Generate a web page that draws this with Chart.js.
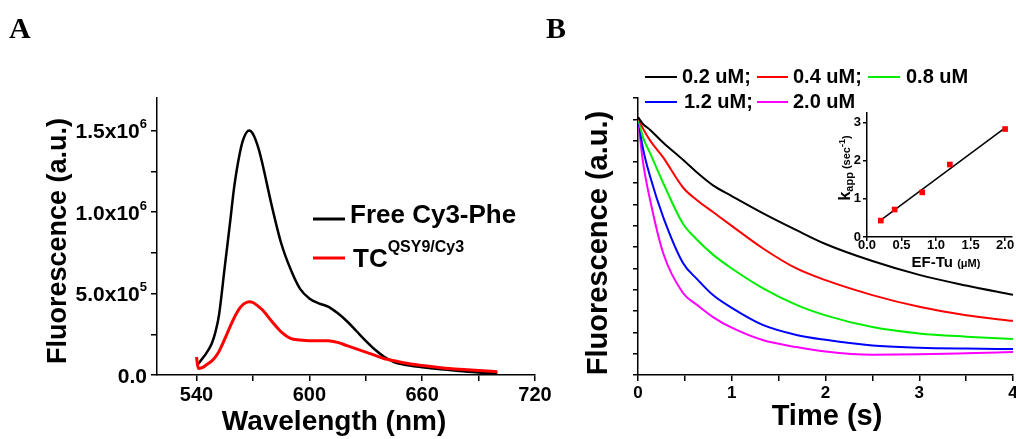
<!DOCTYPE html>
<html>
<head>
<meta charset="utf-8">
<script src="https://cdn.jsdelivr.net/npm/chart.js@4.4.0/dist/chart.umd.min.js"></script>
<style>
  html, body { margin: 0; padding: 0; background: #fff; }
  #wrap { position: relative; width: 1016px; height: 439px; overflow: hidden; }
  canvas { position: absolute; }
  #chartA { left: 0; top: 0; }
  #chartB { left: 540px; top: 0; }
  #inset { left: 800px; top: 100px; }
</style>
</head>
<body>
<div id="wrap">
  <canvas id="chartA" width="560" height="439"></canvas>
  <canvas id="chartB" width="476" height="439"></canvas>
  <canvas id="inset" width="216" height="180"></canvas>
</div>
<script>
// ---- panel A: emission spectra ----
const wavelength = [540, 541, 543, 545, 548, 550, 552, 555, 558, 560, 563, 565, 568, 570, 573, 575,
  580, 585, 590, 595, 600, 605, 610, 615, 620, 625, 630, 635, 640, 645, 650, 660, 670, 680, 690, 700];
const freeCy3 = [60000, 70000, 100000, 130000, 190000, 260000, 370000, 660000, 950000, 1150000,
  1360000, 1450000, 1500000, 1480000, 1390000, 1300000, 1040000, 810000, 650000, 530000, 470000,
  440000, 420000, 380000, 330000, 270000, 210000, 155000, 110000, 80000, 65000, 48000, 35000,
  25000, 16000, 10000];
const tcQsy = [110000, 40000, 45000, 60000, 85000, 110000, 145000, 220000, 300000, 350000, 410000,
  435000, 450000, 445000, 420000, 400000, 330000, 265000, 225000, 215000, 210000, 210000, 210000,
  200000, 180000, 160000, 140000, 120000, 100000, 88000, 75000, 58000, 45000, 35000, 27000, 20000];
const aXTicks = [540, 570, 600, 630, 660, 690, 720];
const aXLabels = [540, 600, 660, 720];
const aYTicks = [0, 250000, 500000, 750000, 1000000, 1250000, 1500000];
const aYLabels = [["0.0", ""], ["5.0x10", "5"], ["1.0x10", "6"], ["1.5x10", "6"]];
const aYLabelValues = [0, 500000, 1000000, 1500000];

// ---- panel B: fluorescence decay ----
const time = [0, 0.05, 0.13, 0.27, 0.48, 0.63, 0.8, 1.0, 1.33, 1.69, 2.0, 2.5, 3.0, 3.5, 4.0];
const conc02 = [12.1, 11.8, 11.5, 10.9, 10.1, 9.5, 8.9, 8.4, 7.6, 6.8, 6.15, 5.35, 4.7, 4.2, 3.76];
const conc04 = [12.1, 11.6, 11.0, 10.2, 8.8, 8.2, 7.65, 7.0, 5.95, 5.0, 4.45, 3.75, 3.2, 2.8, 2.54];
const conc08 = [12.1, 11.2, 10.4, 9.0, 7.1, 6.35, 5.65, 5.0, 4.08, 3.29, 2.8, 2.25, 1.95, 1.8, 1.69];
const conc12 = [12.1, 10.7, 9.3, 7.4, 5.26, 4.5, 3.75, 3.15, 2.35, 1.88, 1.65, 1.38, 1.28, 1.24, 1.22];
const conc20 = [12.1, 10.1, 8.2, 5.7, 3.85, 3.29, 2.72, 2.22, 1.64, 1.31, 1.1, 0.95, 0.97, 1.02, 1.08];
const bXTicks = [0, 0.5, 1, 1.5, 2, 2.5, 3, 3.5, 4];
const bXLabels = [0, 1, 2, 3, 4];
const bYTicks = [0, 1, 2, 3, 4, 5, 6, 7, 8, 9, 10, 11, 12, 13];

// ---- inset: k_app vs EF-Tu ----
const efTu = [0.2, 0.4, 0.8, 1.2, 2.0];
const kApp = [0.43, 0.72, 1.17, 1.9, 2.83];
const fitX = [0.2, 2.0];
const fitY = [0.44, 2.86];
const insetXTicks = [0, 0.5, 1, 1.5, 2];
const insetXLabels = ["0.0", "0.5", "1.0", "1.5", "2.0"];
const insetYTicks = [0, 1, 2, 3];

const FONT = "'Liberation Sans', Arial, sans-serif";
const SERIF = "'Liberation Serif', 'Times New Roman', serif";

function pts(xs, ys) {
  return xs.map((x, i) => ({ x: x, y: ys[i] }));
}

// draws a row of text pieces [text, size, dy], e.g. for superscripts
function richText(ctx, parts, x, y, align) {
  let w = 0;
  parts.forEach(p => {
    ctx.font = "bold " + p[1] + "px " + FONT;
    w += ctx.measureText(p[0]).width;
  });
  let cx = align === "right" ? x - w : align === "center" ? x - w / 2 : x;
  ctx.textAlign = "left";
  ctx.textBaseline = "alphabetic";
  parts.forEach(p => {
    ctx.font = "bold " + p[1] + "px " + FONT;
    ctx.fillText(p[0], cx, y + p[2]);
    cx += ctx.measureText(p[0]).width;
  });
}

function text(ctx, str, size, x, y, align) {
  ctx.font = "bold " + size + "px " + FONT;
  ctx.textAlign = align || "center";
  ctx.textBaseline = "middle";
  ctx.fillText(str, x, y);
}

function vText(ctx, str, size, x, y) {
  ctx.save();
  ctx.translate(x, y);
  ctx.rotate(-Math.PI / 2);
  text(ctx, str, size, 0, 0);
  ctx.restore();
}

function panelLetter(ctx, letter, x) {
  ctx.font = "bold 30px " + SERIF;
  ctx.textAlign = "left";
  ctx.textBaseline = "alphabetic";
  ctx.fillText(letter, x, 38);
}

function legendLine(ctx, x1, x2, y, color, width) {
  ctx.strokeStyle = color;
  ctx.lineWidth = width;
  ctx.beginPath();
  ctx.moveTo(x1, y);
  ctx.lineTo(x2, y);
  ctx.stroke();
}

function axisOpts(min, max, tickList, size, isX, tickLen) {
  return {
    type: "linear",
    min: min,
    max: max,
    ticks: { display: false },
    grid: { drawOnChartArea: false, drawTicks: true, tickLength: tickLen || 6, color: "#000", lineWidth: 1.5 },
    border: { display: true, color: "#000", width: 1.5 },
    afterBuildTicks: s => { s.ticks = tickList.map(v => ({ value: v })); },
    afterFit: s => { if (isX) s.height = size; else s.width = size; },
  };
}

const basePlugins = { legend: { display: false }, tooltip: { enabled: false } };

// panel A
new Chart(document.getElementById("chartA"), {
  type: "line",
  data: {
    datasets: [
      { data: pts(wavelength, tcQsy), borderColor: "#ff0000", borderWidth: 3, pointRadius: 0, cubicInterpolationMode: "monotone", order: 0 },
      { data: pts(wavelength, freeCy3), borderColor: "#000000", borderWidth: 2.5, pointRadius: 0, cubicInterpolationMode: "monotone", order: 1 },
    ],
  },
  options: {
    responsive: false,
    animation: false,
    layout: { padding: { top: 98, right: 25, left: 0, bottom: 0 } },
    plugins: basePlugins,
    scales: {
      x: axisOpts(519, 720, aXTicks, 64, true),
      y: axisOpts(0, 1700000, aYTicks, 157, false),
    },
  },
  plugins: [{
    id: "labelsA",
    afterDraw(chart) {
      const ctx = chart.ctx;
      const sx = chart.scales.x, sy = chart.scales.y;
      ctx.save();
      ctx.fillStyle = "#000";
      aXLabels.forEach(v => text(ctx, String(v), 20, sx.getPixelForValue(v), 395));
      aYLabelValues.forEach((v, i) => {
        const py = sy.getPixelForValue(v) + 7.5;
        richText(ctx, [[aYLabels[i][0], 21, 0], [aYLabels[i][1], 13, -10]], 147, py, "right");
      });
      text(ctx, "Wavelength (nm)", 28, 334, 422);
      vText(ctx, "Fluorescence (a.u.)", 27, 59, 241);
      // legend
      legendLine(ctx, 313, 345, 219, "#000", 3);
      text(ctx, "Free Cy3-Phe", 26, 350, 216, "left");
      legendLine(ctx, 313, 345, 258, "#ff0000", 3);
      richText(ctx, [["TC", 26, 0], ["QSY9/Cy3", 16, -15]], 353, 267, "left");
      panelLetter(ctx, "A", 9);
      ctx.restore();
    },
  }],
});

// panel B
const bSeries = [
  { y: conc02, color: "#000000", label: "0.2 uM;" },
  { y: conc04, color: "#ff0000", label: "0.4 uM;" },
  { y: conc08, color: "#00ee00", label: "0.8 uM" },
  { y: conc12, color: "#0000ff", label: "1.2 uM;" },
  { y: conc20, color: "#ff00ff", label: "2.0 uM" },
];

new Chart(document.getElementById("chartB"), {
  type: "line",
  data: {
    datasets: bSeries.map(s => ({
      data: pts(time, s.y),
      borderColor: s.color,
      borderWidth: 2,
      pointRadius: 0,
      cubicInterpolationMode: "monotone",
    })),
  },
  options: {
    responsive: false,
    animation: false,
    layout: { padding: { top: 98, right: 3, left: 0, bottom: 0 } },
    plugins: basePlugins,
    scales: {
      x: axisOpts(0, 4, bXTicks, 64, true),
      y: axisOpts(0, 13, bYTicks, 98, false, 5),
    },
  },
  plugins: [{
    id: "labelsB",
    afterDraw(chart) {
      const ctx = chart.ctx;
      const sx = chart.scales.x;
      ctx.save();
      ctx.fillStyle = "#000";
      bXLabels.forEach(v => text(ctx, String(v), 17, sx.getPixelForValue(v), 393));
      text(ctx, "Time (s)", 29, 287, 417);
      vText(ctx, "Fluorescence (a.u.)", 29, 59, 243);
      // legend, two rows
      const pos = [[105, 137, 142, 77], [217, 248, 253, 77], [328, 360, 366, 77], [105, 137, 144, 102], [217, 248, 253, 102]];
      bSeries.forEach((s, i) => {
        const p = pos[i];
        legendLine(ctx, p[0], p[1], p[3], s.color, 2);
        ctx.fillStyle = "#000";
        text(ctx, s.label, 20, p[2], p[3], "left");
      });
      panelLetter(ctx, "B", 6);
      ctx.restore();
    },
  }],
});

// inset
new Chart(document.getElementById("inset"), {
  type: "scatter",
  data: {
    datasets: [
      { data: pts(efTu, kApp), pointStyle: "rect", pointRadius: 4, backgroundColor: "#ff0000", borderColor: "#ff0000", borderWidth: 0, order: 0 },
      { data: pts(fitX, fitY), showLine: true, borderColor: "#000", borderWidth: 1.5, pointRadius: 0, order: 1 },
    ],
  },
  options: {
    responsive: false,
    animation: false,
    layout: { padding: { top: 13, right: 3, left: 0, bottom: 0 } },
    plugins: basePlugins,
    scales: {
      x: axisOpts(0, 2.1, insetXTicks, 43, true, 4),
      y: axisOpts(0, 3.25, insetYTicks, 67, false, 4),
    },
  },
  plugins: [{
    id: "labelsInset",
    afterDraw(chart) {
      const ctx = chart.ctx;
      const sx = chart.scales.x, sy = chart.scales.y;
      ctx.save();
      ctx.fillStyle = "#000";
      insetXTicks.forEach((v, i) => text(ctx, insetXLabels[i], 13, sx.getPixelForValue(v), 145));
      insetYTicks.forEach(v => text(ctx, String(v), 13, 61, sy.getPixelForValue(v), "right"));
      richText(ctx, [["EF-Tu ", 15, 0], ["(\u03bcM)", 11, 0]], 146, 167, "center");
      ctx.translate(50, 68);
      ctx.rotate(-Math.PI / 2);
      richText(ctx, [["k", 16, 0], ["app", 11, 3], [" (sec", 11, 0], ["-1", 9, -5], [")", 11, 0]], 0, 0, "center");
      ctx.restore();
    },
  }],
});
</script>
</body>
</html>
